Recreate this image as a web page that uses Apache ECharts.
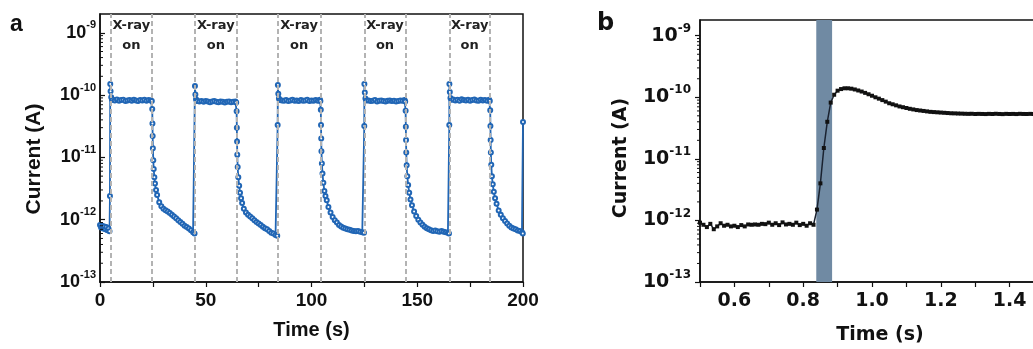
<!DOCTYPE html>
<html><head><meta charset="utf-8">
<script src="https://cdn.jsdelivr.net/npm/echarts@6/dist/echarts.min.js"></script>
<style>html,body{margin:0;padding:0;background:#fff}#c{width:1033px;height:349px}</style>
</head><body><div id="c"></div>
<script>
// ---------- Panel a data: [time (s), current (pA)] ----------
const aOffStart = [[0,0.82],[0.5,0.75],[1,0.8],[1.5,0.72],[2,0.78],[2.5,0.7],[3,0.76],[3.5,0.68],[4,0.72],[4.5,0.65]];
const aCycle1 = [[4.7,2.4],[4.85,150],[5.0,115],[5.3,92],[5.7,85],[6,84],[7,82],[8,85],[9,81],[10,83],[11,84],[12,80],[13,82],[14,83],[15,81],[16,84],[17,82],[18,80],[19,83],[20,82],[21,84],[22,81],[23,83],[24,82],
 [24.5,80],[24.7,60],[24.8,35],[24.9,22],[25.0,14],[25.2,9],[25.4,6.5],[25.7,4.8],[26,3.8],[26.5,3.0],[27,2.5],[28,1.9],[29,1.65],[30,1.5],[31,1.42],[32,1.35],[33,1.28],[34,1.2],[35,1.12],[36,1.05],[37,0.98],[38,0.92],[39,0.86],[40,0.8],[41,0.76],[42,0.72],[43,0.68],[44,0.63],[44.7,0.6]];
const aCycle2 = [[44.9,140],[45.1,102],[45.4,86],[45.8,80],[46,81],[47,79],[48,80],[49,78],[50,80],[51,79],[52,77],[53,79],[54,80],[55,78],[56,77],[57,79],[58,78],[59,76],[60,78],[61,79],[62,77],[63,78],[64,79],
 [64.4,76],[64.6,55],[64.7,30],[64.8,18],[64.9,11],[65.1,7],[65.4,4.8],[65.8,3.5],[66.2,2.7],[66.7,2.2],[67.2,1.85],[68,1.5],[69,1.3],[70,1.2],[71,1.12],[72,1.05],[73,0.98],[74,0.92],[75,0.87],[76,0.82],[77,0.77],[78,0.73],[79,0.7],[80,0.66],[81,0.62],[82,0.6],[83,0.57],[83.8,0.55]];
const aCycle3 = [[84.0,33],[84.1,145],[84.3,105],[84.6,88],[85,83],[86,82],[87,81],[88,83],[89,80],[90,82],[91,84],[92,81],[93,82],[94,80],[95,83],[96,81],[97,82],[98,84],[99,80],[100,82],[101,81],[102,83],[103,81],[104,84],
 [104.2,80],[104.4,58],[104.5,33],[104.6,20],[104.7,12.5],[104.9,8],[105.2,5.5],[105.6,3.9],[106.1,2.9],[106.6,2.4],[107.2,2.05],[108,1.6],[109,1.3],[110,1.1],[111,0.98],[112,0.9],[113,0.82],[114,0.78],[115,0.74],[116,0.72],[117,0.7],[118,0.69],[119,0.67],[120,0.66],[121,0.65],[122,0.66],[123,0.64],[124,0.63],[124.8,0.62]];
const aCycle4 = [[124.95,32],[125.0,150],[125.2,110],[125.5,88],[126,82],[127,82],[128,80],[129,81],[130,83],[131,79],[132,81],[133,82],[134,80],[135,79],[136,81],[137,82],[138,80],[139,81],[140,79],[141,80],[142,82],[143,81],[144,83],
 [144.3,79],[144.5,56],[144.6,31],[144.7,19],[144.8,12],[145,7.5],[145.3,5.0],[145.7,3.6],[146.2,2.7],[146.8,2.1],[147.5,1.7],[148.5,1.35],[149.5,1.15],[150.5,1.0],[151.5,0.9],[152.5,0.83],[153.5,0.77],[154.5,0.73],[155.5,0.7],[156.5,0.68],[157.5,0.66],[158.5,0.67],[159.5,0.65],[160.5,0.64],[161.5,0.66],[162.5,0.64],[163.5,0.63],[164.5,0.62],[165,0.6]];
const aCycle5 = [[165.15,33],[165.2,150],[165.4,112],[165.7,90],[166.2,84],[167,85],[168,82],[169,84],[170,81],[171,86],[172,83],[173,82],[174,84],[175,81],[176,83],[177,85],[178,82],[179,81],[180,84],[181,82],[182,83],[183,81],[184,84],
 [184.3,80],[184.5,57],[184.6,32],[184.7,19],[184.8,12],[185,7.6],[185.3,5],[185.7,3.7],[186.2,2.8],[186.8,2.2],[187.5,1.8],[188.5,1.4],[189.5,1.2],[190.5,1.05],[191.5,0.95],[192.5,0.87],[193.5,0.8],[194.5,0.75],[195.5,0.72],[196.5,0.7],[197.5,0.67],[198.5,0.66],[199.5,0.63],[199.9,0.6],[200,37]];
// X-ray on/off switching times (s)
const xrayEdges = [5, 24.7, 44.9, 64.6, 84, 104.3, 125, 144.5, 165.2, 184.4];

// ---------- Panel b data ----------
const timeB = [0.50,0.51,0.52,0.53,0.54,0.55,0.56,0.57,0.58,0.59,
 0.60,0.61,0.62,0.63,0.64,0.65,0.66,0.67,0.68,0.69,
 0.70,0.71,0.72,0.73,0.74,0.75,0.76,0.77,0.78,0.79,
 0.80,0.81,0.82,0.83,0.84,0.85,0.86,0.87,0.88,0.89,
 0.90,0.91,0.92,0.93,0.94,0.95,0.96,0.97,0.98,0.99,
 1.00,1.01,1.02,1.03,1.04,1.05,1.06,1.07,1.08,1.09,
 1.10,1.11,1.12,1.13,1.14,1.15,1.16,1.17,1.18,1.19,
 1.20,1.21,1.22,1.23,1.24,1.25,1.26,1.27,1.28,1.29,
 1.30,1.31,1.32,1.33,1.34,1.35,1.36,1.37,1.38,1.39,
 1.40,1.41,1.42,1.43,1.44,1.45,1.46,1.47,1.48,1.49,1.50];
const currentB = [0.92,0.85,0.78,0.88,0.72,0.8,0.9,0.82,0.85,0.8,
 0.82,0.78,0.84,0.8,0.86,0.85,0.86,0.85,0.88,0.87,
 0.92,0.85,0.9,0.84,0.93,0.86,0.88,0.85,0.92,0.84,
 0.88,0.82,0.9,0.85,1.5,4.0,15,40,82,110,
 128,136,140,140,138,134,129,124,118,112,
 106,100,95,90,85,80,77,74,71,69,
 67,65,63.5,62,61,60,59,58,57.5,57,
 56.5,56,55.5,55,54.8,54.5,54.3,54,53.8,54,
 53.5,53.8,53.6,53.4,53.8,53.5,54,53.6,53.3,53.8,
 53.5,53.7,53.4,53.9,53.6,53.5,53.8,53.4,53.7,53.6,53.5]; // pA
const bandB = [0.838, 0.884];

// axis tick labels
const decades = [-13, -12, -11, -10, -9];
const minorMant = [2, 3, 4, 5, 6, 7, 8, 9];

const pA = 1e-12;
const seriesA = [].concat(aOffStart, aCycle1, aCycle2, aCycle3, aCycle4, aCycle5).map(d => [d[0], d[1] * pA]);
const seriesB = timeB.map((t, i) => [t, currentB[i] * pA]);

const yMaxA = 2.0e-9, yMaxB = 1.8e-9;
function minorList(xmin, ymax) {
  const out = [];
  decades.forEach(e => minorMant.forEach(m => { const v = m * Math.pow(10, e); if (v < ymax * 0.999) out.push([xmin, v]); }));
  return out;
}
function supLabel(fam, big, small, lh) {
  return {
    formatter: v => { const e = Math.round(Math.log10(v)); return '{b|10}{s|-' + Math.abs(e) + '}'; },
    rich: {
      b: { fontFamily: fam, fontWeight: 'bold', fontSize: big, lineHeight: lh, color: '#111' },
      s: { fontFamily: fam, fontWeight: 'bold', fontSize: small, lineHeight: small, verticalAlign: 'top', color: '#111' }
    }
  };
}
function tickRenderer(dir, len) {
  return function (params, api) {
    const p = api.coord([api.value(0), api.value(1)]);
    return { type: 'line', shape: { x1: p[0], y1: p[1], x2: p[0] + dir * len, y2: p[1] },
      style: { stroke: '#111', lineWidth: 1 } };
  };
}

const onPairs = [];
for (let i = 0; i < xrayEdges.length; i += 2) onPairs.push([{ xAxis: xrayEdges[i], name: 'X-ray\non' }, { xAxis: xrayEdges[i + 1] }]);

const FA = 'Liberation Sans', FB = 'DejaVu Sans';
const chart = echarts.init(document.getElementById('c'));
chart.setOption({
  animation: false,
  backgroundColor: '#fff',
  textStyle: { fontFamily: FA },
  grid: [
    { left: 100, top: 14, width: 423, bottom: 67, show: true, borderColor: '#111', borderWidth: 1.5, outerBoundsMode: 'none', containLabel: false },
    { left: 700, top: 20, right: -11, bottom: 67, show: true, borderColor: '#111', borderWidth: 1.5, outerBoundsMode: 'none', containLabel: false }
  ],
  xAxis: [
    { gridIndex: 0, type: 'value', min: 0, max: 200, interval: 25,
      name: 'Time (s)', nameLocation: 'middle', nameGap: 38,
      nameTextStyle: { fontFamily: FA, fontWeight: 'bold', fontSize: 20, color: '#111' },
      axisLine: { onZero: false, lineStyle: { color: '#111', width: 1.5 } },
      axisTick: { inside: false, length: 5, lineStyle: { color: '#111', width: 1.2 } },
      axisLabel: { margin: 9, fontFamily: FA, fontWeight: 'bold', fontSize: 19, color: '#111',
        formatter: v => (v % 50 === 0 ? String(v) : '') },
      splitLine: { show: false } },
    { gridIndex: 1, type: 'value', min: 0.5, max: 1.5, interval: 0.1,
      name: 'Time (s)', nameLocation: 'middle', nameGap: 44,
      nameTextStyle: { fontFamily: FB, fontWeight: 'bold', fontSize: 19, color: '#111', padding: [0, 0, 0, 16] },
      axisLine: { onZero: false, lineStyle: { color: '#111', width: 1.5 } },
      axisTick: { inside: false, length: 5, lineStyle: { color: '#111', width: 1.2 } },
      axisLabel: { margin: 10, fontFamily: FB, fontWeight: 'bold', fontSize: 19, color: '#111',
        formatter: v => { const k = Math.round(v * 10); return (k % 2 === 0 && k > 5) ? (k / 10).toFixed(1) : ''; } },
      splitLine: { show: false } }
  ],
  yAxis: [
    { gridIndex: 0, type: 'log', logBase: 10, min: 1e-13, max: yMaxA,
      axisLine: { onZero: false, lineStyle: { color: '#111', width: 1.5 } },
      axisTick: { inside: true, length: 5, lineStyle: { color: '#111', width: 1.2 } },
      axisLabel: Object.assign({ margin: 4, showMaxLabel: false }, supLabel(FA, 18, 11, 26)),
      splitLine: { show: false } },
    { gridIndex: 1, type: 'log', logBase: 10, min: 1e-13, max: yMaxB,
      axisLine: { onZero: false, lineStyle: { color: '#111', width: 1.5 } },
      axisTick: { inside: false, length: 5, lineStyle: { color: '#111', width: 1.2 } },
      axisLabel: Object.assign({ margin: 9, showMaxLabel: false }, supLabel(FB, 19, 12, 26)),
      splitLine: { show: false } }
  ],
  graphic: [
    { type: 'text', x: 10, y: 25, style: { text: 'a', font: 'bold 23px "Liberation Sans"', fill: '#111', verticalAlign: 'middle' } },
    { type: 'text', x: 597, y: 24, style: { text: 'b', font: 'bold 24px "DejaVu Sans"', fill: '#111', verticalAlign: 'middle' } },
    { type: 'text', x: 34, y: 159, rotation: Math.PI / 2, style: { text: 'Current (A)', font: 'bold 21px "Liberation Sans"', fill: '#111', align: 'center', verticalAlign: 'middle' } },
    { type: 'text', x: 621, y: 158, rotation: Math.PI / 2, style: { text: 'Current (A)', font: 'bold 19px "DejaVu Sans"', fill: '#111', align: 'center', verticalAlign: 'middle' } }
  ],
  series: [
    { // dashed switching lines and "X-ray on" labels (panel a)
      type: 'line', xAxisIndex: 0, yAxisIndex: 0, data: seriesA, z: 1, silent: true,
      showSymbol: false, lineStyle: { opacity: 0 },
      markLine: { silent: true, symbol: ['none', 'none'], label: { show: false },
        lineStyle: { color: '#b3b3b3', width: 2, type: [5, 3] },
        data: xrayEdges.map(x => ({ xAxis: x })) },
      markArea: { silent: true, itemStyle: { color: 'rgba(0,0,0,0)' },
        label: { show: true, position: 'insideTop', distance: 2, fontFamily: FB, fontWeight: 'bold', fontSize: 13, lineHeight: 20, color: '#222', align: 'center' },
        data: onPairs } },
    { type: 'line', xAxisIndex: 0, yAxisIndex: 0, data: seriesA, z: 3,
      symbol: 'emptyCircle', symbolSize: 4, showAllSymbol: true,
      itemStyle: { color: '#2166b5', borderWidth: 1 },
      lineStyle: { color: '#2166b5', width: 1.8 } },
    { // shaded band (panel b)
      type: 'line', xAxisIndex: 1, yAxisIndex: 1, data: seriesB, z: 1, silent: true,
      showSymbol: false, lineStyle: { opacity: 0 },
      markArea: { silent: true, itemStyle: { color: '#708aa3', opacity: 1 },
        data: [[{ xAxis: bandB[0] }, { xAxis: bandB[1] }]] } },
    { type: 'line', xAxisIndex: 1, yAxisIndex: 1, data: seriesB, z: 3,
      symbol: 'rect', symbolSize: 4, showAllSymbol: true,
      itemStyle: { color: '#111' },
      lineStyle: { color: '#1a2230', width: 1.5 } },
    { type: 'custom', xAxisIndex: 0, yAxisIndex: 0, data: minorList(0, yMaxA), clip: false, silent: true, z: 5,
      renderItem: tickRenderer(1, 3) },
    { type: 'custom', xAxisIndex: 1, yAxisIndex: 1, data: minorList(0.5, yMaxB), clip: false, silent: true, z: 5,
      renderItem: tickRenderer(-1, 3) }
  ]
});
</script>
</body></html>
